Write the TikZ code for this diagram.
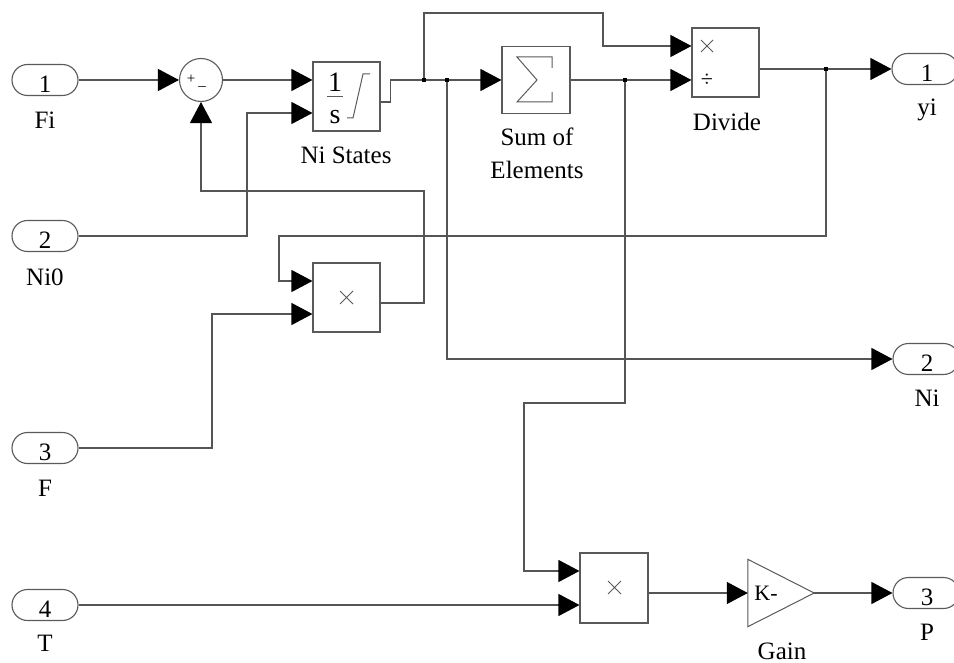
\documentclass[tikz,border=0pt]{standalone}
\usepackage{fontspec}
\setmainfont{Liberation Serif}
\usetikzlibrary{arrows.meta,calc}
\definecolor{wirec}{HTML}{555555}
\definecolor{boxc}{HTML}{5A5A5A}
\newcommand\fsbig{\fontsize{25}{33}\selectfont}
\newcommand\fsfrac{\fontsize{28}{33}\selectfont}
\newcommand\fsmid{\fontsize{22}{26}\selectfont}
\newcommand\fssmall{\fontsize{15}{18}\selectfont}
\begin{document}
\begin{tikzpicture}[x=1pt,y=-1pt,
 wire/.style={draw=wirec,line width=1.1pt},
 arr/.style={wire,-{Triangle[length=21pt,width=22pt,color=black]}},
 icon/.style={draw=boxc,line width=1pt},
 blk/.style={draw=boxc,line width=1.1pt,rectangle,inner sep=0pt,minimum width=67pt,minimum height=69pt},
 port/.style={draw=boxc,line width=1.1pt,rectangle,rounded corners=15.5pt,inner sep=0pt,minimum width=66pt,minimum height=31pt},
 txt/.style={inner sep=0pt,font=\fsbig},
 junc/.style={fill=black,inner sep=0pt,minimum size=4.5pt,rectangle},
]
\clip (0,0) rectangle (954,663);
\fill[white] (0,0) rectangle (954,663);

% inports
\node[port] (in1) at (45,80) {};
\node[port] (in2) at (45,236) {};
\node[port] (in3) at (45,448) {};
\node[port] (in4) at (45,605) {};
\node[txt] (n1) at (45,84) {1};
\node[txt] (n2) at (45,240) {2};
\node[txt] (n3) at (45,452) {3};
\node[txt] (n4) at (45,609) {4};
\node[txt] (l1) at (45,120) {Fi};
\node[txt] (l2) at (45,277) {Ni0};
\node[txt] (l3) at (45,488) {F};
\node[txt] (l4) at (45,643) {T};

% outports
\node[port] (out1) at (925,69) {};
\node[port] (out2) at (926,359) {};
\node[port] (out3) at (926,593) {};
\node[txt] (m1) at (927,73) {1};
\node[txt] (m2) at (927,363) {2};
\node[txt] (m3) at (927,597) {3};
\node[txt] (k1) at (927,110) {yi};
\node[txt] (k2) at (927,398) {Ni};
\node[txt] (k3) at (927,632) {P};

% sum
\node[draw=boxc,line width=1.1pt,circle,minimum size=43pt,inner sep=0pt] (sum) at (201,80) {};
\node[inner sep=0pt,font=\fssmall] (sp) at (191,79) {+};
\node[inner sep=0pt,font=\fssmall] (sm) at (202,89) {–};

% integrator
\node[blk] (integ) at (346.5,96.5) {};
\node[inner sep=0pt,font=\fsfrac] (i1) at (335,82.5) {1};
\draw[icon] (327,97) -- (343,97);
\node[inner sep=0pt,font=\fsfrac] (is) at (335,117) {s};
\draw[icon] (347,118) -- (353,118) -- (363,74) -- (370,74);
\node[txt] (intlbl) at (346,155) {Ni States};

% product 1
\node[blk] (prod1) at (346.5,297.5) {};
\draw[icon] (340,291) -- (353,304) (340,304) -- (353,291);

% sum of elements
\node[blk,minimum width=68pt,minimum height=67pt] (soe) at (536,80) {};
\draw[icon] (552,68) -- (552,57) -- (517,57) -- (537,80) -- (517,102) -- (552,102) -- (552,92);
\node[txt,align=center] (soelbl) at (537,153) {Sum of\\Elements};

% divide
\node[blk] (div) at (725.5,62.5) {};
\draw[icon] (701,40) -- (713,52) (701,52) -- (713,40);
\node[inner sep=0pt,font=\fsmid] (dv) at (707,80) {÷};
\node[txt] (divlbl) at (727,122) {Divide};

% product 2
\node[blk,minimum width=68pt,minimum height=70pt] (prod2) at (614,588) {};
\draw[icon] (608,581) -- (621,594) (608,594) -- (621,581);

% gain
\node[inner sep=0pt,minimum width=66pt,minimum height=67pt] (gain) at (781,593) {};
\draw[icon] (gain.north west) -- (gain.east) -- (gain.south west) -- cycle;
\node[inner sep=0pt,font=\fsmid] (gk) at (766,593) {K-};
\node[txt] (gainlbl) at (782,651) {Gain};

% junctions and bends
\node[junc] (d1) at (424,80) {};
\node[junc] (d2) at (447,80) {};
\node[junc] (d3) at (625,80) {};
\node[junc] (dY) at (826,69) {};
\coordinate (c1) at (603,13);
\coordinate (c2) at (279,236);
\coordinate (c3) at (247,113);
\coordinate (c4) at (212,314);
\coordinate (c5) at (424,191);
\coordinate (c6) at (524,403);

% wires
\draw[arr] (in1.east) -- (sum.west);
\draw[arr] (sum.east) -- ([yshift=16.5pt]integ.west);
\draw[wire] ([yshift=-5.5pt]integ.east) -- ++(10,0) |- (d1);
\draw[wire] (d1) -- (d2);
\draw[arr] (d2) -- (soe.west);
\draw[arr] (d1) |- (c1) |- ([yshift=16.5pt]div.west);
\draw[wire] (soe.east) -- (d3);
\draw[arr] (d3) -- ([yshift=-17.5pt]div.west);
\draw[wire] ([yshift=-6.5pt]div.east) -- (dY);
\draw[arr] (dY) -- (out1.west);
\draw[arr] (dY) |- (c2) |- ([yshift=16.5pt]prod1.west);
\draw[arr] (in2.east) -| (c3) -- ([yshift=-16.5pt]integ.west);
\draw[arr] (in3.east) -| (c4) -- ([yshift=-16.5pt]prod1.west);
\draw[arr] ([yshift=-5.5pt]prod1.east) -| (c5) -| (sum.south);
\draw[arr] (d2) |- (out2.west);
\draw[arr] (d3) |- (c6) |- ([yshift=17pt]prod2.west);
\draw[arr] (in4.east) -- ([yshift=-17pt]prod2.west);
\draw[arr] ([yshift=-5pt]prod2.east) -- (gain.west);
\draw[arr] (gain.east) -- (out3.west);
\end{tikzpicture}
\end{document}
